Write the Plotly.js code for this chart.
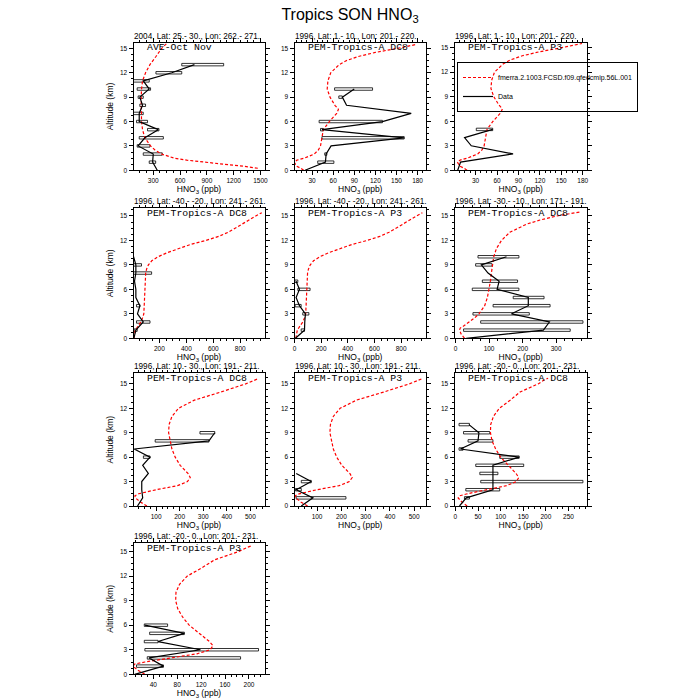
<!DOCTYPE html>
<html>
<head>
<meta charset="utf-8">
<script src="https://cdn.plot.ly/plotly-3.0.1.min.js"></script>
<style>html,body{margin:0;padding:0;background:#fff;}#chart{width:700px;height:700px;}</style>
</head>
<body>
<div id="chart"></div>
<script>
// ---------------- DATA ----------------
const mainTitle = 'Tropics SON HNO<sub>3</sub>';
const modelName = 'fmerra.2.1003.FCSD.f09.qfedcmip.56L.001';
const dataName = 'Data';

const panelTitles = [
  '2004, Lat: 25.- 30., Lon: 262.- 271.',
  '1996, Lat: 1.- 10., Lon: 201.- 220.',
  '1996, Lat: 1.- 10., Lon: 201.- 220.',
  '1996, Lat: -40.- -20., Lon: 241.- 261.',
  '1996, Lat: -40.- -20., Lon: 241.- 261.',
  '1996, Lat: -30.- -10., Lon: 171.- 191.',
  '1996, Lat: 10.- 30., Lon: 191.- 211.',
  '1996, Lat: 10.- 30., Lon: 191.- 211.',
  '1996, Lat: -20.- 0., Lon: 201.- 231.',
  '1996, Lat: -20.- 0., Lon: 201.- 231.'
];
const campaignLabels = [
  'AVE-Oct Nov', 'PEM-Tropics-A DC8', 'PEM-Tropics-A P3',
  'PEM-Tropics-A DC8', 'PEM-Tropics-A P3', 'PEM-Tropics-A DC8',
  'PEM-Tropics-A DC8', 'PEM-Tropics-A P3', 'PEM-Tropics-A DC8',
  'PEM-Tropics-A P3'
];

// Model profiles (altitude km, HNO3 ppb)
const modAltA = [0.25,0.5,0.75,1,1.25,1.5,2,2.5,3,4,5,6,7,8,9,10,11,12,13,14,15,15.6];
const modValA = [1470,1313,1088,863,675,533,394,319,270,206,180,169,165,165,165,169,180,214,263,330,394,450];

const modAltB = [0,0.25,0.5,1,1.25,1.5,2,2.5,3,4,5,6,7,7.5,8,9,10,11,12,13,13.5,14,14.5,15,15.5];
const modValB = [18,14,8,4.5,8.5,19,33,39,42,43.5,46,54.5,65,67.5,62.5,55.5,51.5,52.5,56.5,68.5,79,95.5,120,151,179];

const modAltC = [0,0.5,1,1.5,2,2.5,3,4,5,6,7,8,8.5,9,9.5,10,10.5,11,11.5,12,12.5,13,13.5,14,14.5,15,15.4];
const modValC = [10,14,21,41,62,75,84,87,89,90,93,98,105,118,143,190,258,340,430,545,640,710,765,815,865,915,960];

const modAltD = [0,0.5,1,1.25,1.5,2,2.5,3,4,5,6,7,8,9,10,11,12,13,14,14.5,15,15.5];
const modValD = [27,17,12,14,24,42,57,70,87,95,100,104,107,110,114,122,137,162,212,252,302,372];

const modAltE = [0,0.5,1,1.25,1.5,2,2.5,3,3.5,4,5,6,7,8,9,10,11,12,13,14,14.5,15,15.6];
const modValE = [61,33,12,10,26,100,191,233,245,235,202,181,167,160,153,155,167,195,262,375,430,480,530];

const modAltF = [0,0.5,1,1.25,1.5,2,2.5,3,3.5,4,5,6,7,8,9,10,11,12,13,14,14.5,15,15.5,15.7];
const modValF = [26,14,6,9,26,71,113,135,140,134,116,100,89,81,77.5,78,84,97,121,143,163,183,197,205];

// Observations: mean profile
const obsAlt1 = [0,1,2,3,4,5,6,7,8,9,10,11,12,13];
const obsVal1 = [345,293,300,131,206,356,143,143,180,150,255,188,507,761];
const obsAlt2 = [0,1,2,3,4,5,6,7,8,9,10];
const obsVal2 = [20,49,50,57,161,44,130,171,79,73,90];
const obsAlt3 = [0,1,2,3,4,5];
const obsVal3 = [5,9,82.5,24,14.6,54];
const obsAlt4 = [0,1,2,3,4,5,6,7,8,9,10];
const obsVal4 = [10,25,80,37,55,25,25,15,25,25,8];
const obsAlt5 = [0,1,2,3,4,5,6,7];
const obsVal5 = [7,75,77,82,37,12,37,12];
const obsAlt6 = [0,1,2,3,4,5,6,7,8,9,10];
const obsVal6 = [32,262,280,167,217,217,124,130,97,77,152];
const obsAlt7 = [0,1,2,3,4,5,6,7,8,9];
const obsVal7 = [21,43,39,39,67,43,74,7,324,349];
const obsAlt8 = [0,1,2,3,4];
const obsVal8 = [35,83,14,76,14];
const obsAlt9 = [0,1,2,3,4,5,6,7,8,9,10];
const obsVal9 = [9,24,83,83,83,83,141,11,50,52,30];
const obsAlt10 = [0,1,2,3,4,5,6];
const obsVal10 = [9,57,33,119,48,92,26];

// Observations: spread boxes (low / high)
const boxAlt1 = [1,2,3,4,5,6,7,8,9,10,11,12,13];
const boxLo1 = [255,188,120,143,236,113,79,150,131,120,79,330,619];
const boxHi1 = [327,401,263,413,364,236,188,214,188,270,255,619,1088];
const boxAlt2 = [1,2,4,5,6,9,10];
const boxLo2 = [38,48,44,42,40,68,62];
const boxHi2 = [61,51,161,46,130,73,116];
const boxAlt3 = [5];
const boxLo3 = [31];
const boxHi3 = [54];
const boxAlt4 = [1,2,4,8,9];
const boxLo4 = [12,30,30,8,8];
const boxHi4 = [35,130,55,142,67];
const boxAlt5 = [1,3,4,6,7];
const boxLo5 = [50,62,5,25,2];
const boxHi5 = [75,108,50,117,25];
const boxAlt6 = [1,2,3,4,5,6,7,9,10];
const boxLo6 = [24,75,52,112,172,50,80,60,67];
const boxHi6 = [342,380,220,282,264,189,185,109,189];
const boxAlt7 = [6,8,9];
const boxLo7 = [46,96,286];
const boxHi7 = [74,324,349];
const boxAlt8 = [1,2,3];
const boxLo8 = [14,11,35];
const boxHi8 = [219,35,76];
const boxAlt9 = [1,2,3,4,5,6,7,8,9,10];
const boxLo9 = [20,23,56,54,45,98,8,28,18,8];
const boxHi9 = [31,98,282,94,151,141,17,83,76,31];
const boxAlt10 = [1,2,3,4,5,6];
const boxLo10 = [12,30,26,25,34,25];
const boxHi10 = [57,186,216,48,92,64];

// Axis ranges / ticks
const xRanges = [[79,1545],[5,192],[0.5,186],[7.5,980],[0,987],[-3,392],[4,560],[7,549],[-2,291],[7,226]];
const xDticks = [300,30,30,200,200,100,100,100,50,40];
const yTops = [15.7,15.7,15.6,15.94,15.94,15.94,16.3,16.3,16.3,16.0];

// ---------------- BUILD ----------------
const panels = [
  {mA: modAltA, mV: modValA, oA: obsAlt1, oV: obsVal1, bA: boxAlt1, bL: boxLo1, bH: boxHi1},
  {mA: modAltB, mV: modValB, oA: obsAlt2, oV: obsVal2, bA: boxAlt2, bL: boxLo2, bH: boxHi2},
  {mA: modAltB, mV: modValB, oA: obsAlt3, oV: obsVal3, bA: boxAlt3, bL: boxLo3, bH: boxHi3},
  {mA: modAltC, mV: modValC, oA: obsAlt4, oV: obsVal4, bA: boxAlt4, bL: boxLo4, bH: boxHi4},
  {mA: modAltC, mV: modValC, oA: obsAlt5, oV: obsVal5, bA: boxAlt5, bL: boxLo5, bH: boxHi5},
  {mA: modAltD, mV: modValD, oA: obsAlt6, oV: obsVal6, bA: boxAlt6, bL: boxLo6, bH: boxHi6},
  {mA: modAltE, mV: modValE, oA: obsAlt7, oV: obsVal7, bA: boxAlt7, bL: boxLo7, bH: boxHi7},
  {mA: modAltE, mV: modValE, oA: obsAlt8, oV: obsVal8, bA: boxAlt8, bL: boxLo8, bH: boxHi8},
  {mA: modAltF, mV: modValF, oA: obsAlt9, oV: obsVal9, bA: boxAlt9, bL: boxLo9, bH: boxHi9},
  {mA: modAltF, mV: modValF, oA: obsAlt10, oV: obsVal10, bA: boxAlt10, bL: boxLo10, bH: boxHi10}
];

const W = 700, H = 700;
const colPx = [[133.5,264.5],[294.5,426],[454.5,587]];
const rowPx = [[42.7,170.3],[208.3,338.3],[373.3,506],[543.3,674.3]];
const FONT = 'Liberation Sans, Arial, sans-serif';

const traces = [];
const layout = {
  width: W, height: H,
  margin: {l:0, r:0, t:0, b:0},
  paper_bgcolor: '#fff', plot_bgcolor: '#fff',
  font: {family: FONT, color: '#000'},
  showlegend: true,
  barmode: 'overlay',
  title: {text: mainTitle, x: 0.5, xanchor: 'center', xref: 'paper',
          y: 1 - 14/H, yanchor: 'middle', yref: 'paper',
          font: {size: 16, family: FONT, color: '#000'}},
  legend: {x: 457/W, xanchor: 'left', y: 1 - 62/H, yanchor: 'top',
           bgcolor: 'rgba(0,0,0,0)', bordercolor: '#000', borderwidth: 1,
           font: {size: 7, family: FONT, color: '#000'}, traceorder: 'normal',
           itemwidth: 30, tracegroupgap: 0},
  annotations: []
};

panels.forEach((p, i) => {
  const n = i + 1;
  const sx = n === 1 ? '' : String(n);
  const row = Math.floor(i / 3), col = i % 3;
  const xd = [colPx[col][0] / W, colPx[col][1] / W];
  const yd = [1 - rowPx[row][1] / H, 1 - rowPx[row][0] / H];

  traces.push({
    type: 'bar', orientation: 'h',
    y: p.bA, base: p.bL, x: p.bH.map((h, k) => h - p.bL[k]),
    width: 0.3,
    marker: {color: '#ffffff', line: {color: '#000', width: 0.8}},
    xaxis: 'x' + sx, yaxis: 'y' + sx, showlegend: false, hoverinfo: 'skip'
  });
  traces.push({
    type: 'scatter', mode: 'lines', x: p.mV, y: p.mA, name: modelName,
    line: {color: 'red', width: 1.2, dash: '3px,2px'},
    xaxis: 'x' + sx, yaxis: 'y' + sx, showlegend: i === 0, cliponaxis: true
  });
  traces.push({
    type: 'scatter', mode: 'lines', x: p.oV, y: p.oA, name: dataName,
    line: {color: '#000', width: 1.2},
    xaxis: 'x' + sx, yaxis: 'y' + sx, showlegend: i === 0
  });

  const common = {
    showline: true, linecolor: '#000', linewidth: 1, mirror: 'allticks',
    ticks: 'outside', ticklen: 4, tickwidth: 1, tickcolor: '#000',
    showgrid: false, zeroline: false, fixedrange: true,
    tickfont: {size: 6.5, family: FONT, color: '#000'}
  };
  layout['xaxis' + sx] = Object.assign({}, common, {
    domain: xd, anchor: 'y' + sx, range: xRanges[i],
    tick0: 0, dtick: xDticks[i],
    minor: {ticks: 'outside', ticklen: 2, tickcolor: '#000', dtick: xDticks[i] / 4, tick0: 0, showgrid: false},
    title: {text: 'HNO<sub>3</sub> (ppb)', font: {size: 8.5, family: FONT, color: '#000'}, standoff: 1}
  });
  const yax = Object.assign({}, common, {
    domain: yd, anchor: 'x' + sx, range: [0, yTops[i]],
    tick0: 0, dtick: 3,
    minor: {ticks: 'outside', ticklen: 2, tickcolor: '#000', dtick: 0.75, tick0: 0, showgrid: false}
  });
  if (col === 0) {
    yax.title = {text: 'Altitude (km)', font: {size: 8.5, family: FONT, color: '#000'}, standoff: 4};
  }
  layout['yaxis' + sx] = yax;

  layout.annotations.push({
    text: panelTitles[i], showarrow: false,
    xref: 'x' + sx + ' domain', yref: 'y' + sx + ' domain',
    x: 0, xanchor: 'left', y: 1, yanchor: 'bottom', yshift: 0, xshift: -2,
    font: {size: 8.2, family: FONT, color: '#000'}
  });
  layout.annotations.push({
    text: campaignLabels[i], showarrow: false,
    xref: 'x' + sx + ' domain', yref: 'y' + sx + ' domain',
    x: 0.09, xanchor: 'left', y: 1, yanchor: 'middle', yshift: -5,
    font: {size: 9.8, family: 'Liberation Mono, Courier New, monospace', color: '#000'}
  });
});

Plotly.newPlot('chart', traces, layout, {staticPlot: true, displayModeBar: false});
</script>
</body>
</html>
